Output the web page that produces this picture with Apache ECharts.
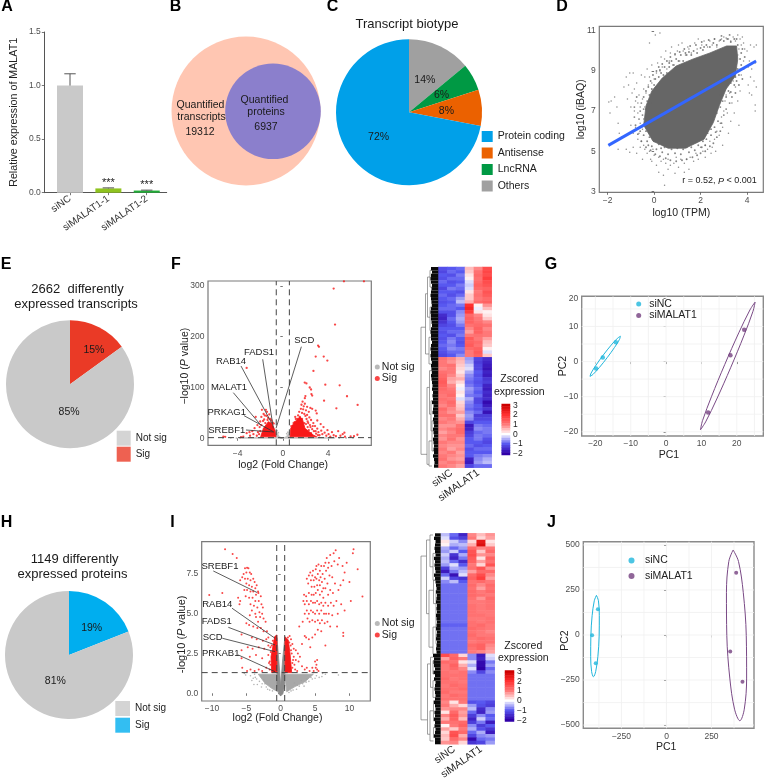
<!DOCTYPE html>
<html><head><meta charset="utf-8">
<style>html,body{margin:0;padding:0;background:#fff}#c{width:765px;height:778px}</style>
<script src="https://cdn.jsdelivr.net/npm/echarts@6/dist/echarts.min.js"></script>
</head><body><div id="c"></div>
<script>
// ---------- Panel A ----------
const knockdownGroups=['siNC','siMALAT1-1','siMALAT1-2'];
const knockdownValues=[1.0,0.04,0.02];
const knockdownErrors=[0.11,0.005,0.004];
const knockdownPositions=[1,2,3];
// ---------- Panel B ----------
const vennNames=['Quantified transcripts','Quantified proteins'];
const vennValues=[19312,6937];
// ---------- Panel C ----------
const biotypeNames=['Others','LncRNA','Antisense','Protein coding'];
const biotypeValues=[14,6,8,72];
// ---------- Panel D ----------
const correlationText=['r = 0.52, ','P',' < 0.001'];
const corrFitLine=[[-1.97,5.29],[4.39,9.5]];
const corrCloudOutline=[[-.35,7.26],[-.1,8],[.35,8.65],[.95,9.25],[1.68,9.6],[2.4,9.9],[3.12,10.25],[3.55,10.25],[3.6,9.59],[3.5,8.76],[3.1,8.1],[2.8,7.26],[2.55,6.43],[2.15,5.6],[1.35,5.15],[.6,5.15],[-.05,5.5],[-.45,6.3]];
const corrEdgeScatter=[[-.35,7.1],[-.3,7.5],[-.2,7.8],[-.15,7.4],[-.1,8.1],[0,8.3],[.05,8.6],[.15,8.2],[.2,8.7],[.3,8.9],[.4,8.8],[.45,9.2],[.55,8.9],[.65,9.2],[.75,9.5],[.85,9.3],[.95,9.6],[1.05,9.5],[1.15,9.8],[1.25,9.5],[1.4,9.8],[1.5,9.95],[1.6,9.8],[1.7,10],[1.85,9.9],[2,10.15],[2.1,10.05],[2.25,10.3],[2.4,10.2],[2.55,10.4],[2.7,10.3],[2.85,10.55],[3,10.5],[3.15,10.6],[3.3,10.45],[3.45,10.6],[3.6,10.3],[3.75,9.9],[3.7,9.6],[3.75,9.3],[3.6,9.1],[3.65,8.8],[3.5,8.7],[3.45,8.3],[3.3,8.4],[3.2,8],[3.05,8.2],[3.1,7.7],[2.95,7.5],[2.85,7.8],[2.85,7.2],[2.7,6.9],[2.75,6.5],[2.55,6.6],[2.6,6.2],[2.45,6.1],[2.45,5.8],[2.3,5.9],[2.25,5.6],[2.1,5.5],[2.05,5.2],[1.9,5.3],[1.8,5.45],[1.75,5.05],[1.6,5.2],[1.5,4.95],[1.4,5.2],[1.25,5.1],[1.15,4.85],[1,5.15],[.9,4.9],[.75,5.1],[.6,4.85],[.45,5.2],[.35,4.95],[.2,5.35],[.1,5.1],[0,5.5],[-.1,5.25],[-.2,5.7],[-.3,5.5],[-.35,6],[-.45,5.8],[-.4,6.4],[-.55,6.2],[-.5,6.8],[-.65,6.6],[-.45,7.1],[-.6,7],[-.55,7.4],[-.45,7.7],[-.35,8],[-.25,8.2],[-.15,8.5],[-.05,8.8],[.1,9],[.2,9.2],[.35,9.35],[.55,9.5],[.7,9.7],[.9,9.85],[1.1,9.95],[1.3,10.1],[1.55,10.25],[1.8,10.3],[2.05,10.45],[2.35,10.55],[2.6,10.6],[2.9,10.75],[3.25,10.8],[3.55,10.6],[3.8,10.1],[3.9,9.7],[3.85,9.1],[3.8,8.6],[3.65,8.3],[3.5,7.9],[3.35,7.7],[3.25,7.4],[3.1,7.1],[3,6.8],[2.9,6.4],[2.85,6],[2.7,5.7],[2.55,5.4],[2.4,5.25],[2.2,5],[2,4.9],[1.85,4.8],[1.65,4.7],[1.4,4.6],[1.2,4.55],[.95,4.5],[.7,4.55],[.5,4.65],[.25,4.75],[.05,4.85],[-.15,5.05],[-.35,5.2],[-.55,5.5],[-.7,5.85],[-.8,6.3],[-.85,6.7],[-.85,7.2],[-.75,7.7],[2.65,5.95],[2.2,5.3],[.3,5.15],[-.25,5.3],[-.6,6],[3.3,7.95],[3.55,8.5],[.25,9.05],[.65,9.4],[1.35,9.9],[2.15,10.2]];
const corrScatter=[[-1.95,7.45],[-1.9,6.9],[-1.85,7.5],[-1.7,7.7],[-1.6,7.2],[-1.55,6.4],[-1.5,5.9],[-1.4,5.7],[-1.3,8.2],[-1.2,8.7],[-1.15,7.6],[-1.1,8.3],[-1.05,8.9],[-1,7.2],[-1,6.3],[-.95,7.9],[-.9,5.9],[-.9,8.9],[-.85,7],[-.8,6.2],[-.8,7.5],[-.75,8.4],[-.7,5.6],[-.7,6.9],[-.65,7.8],[-.6,6.4],[-.6,7.2],[-.55,5.5],[-.55,8.8],[-.5,7.6],[-.5,6.1],[-.45,8.1],[-.45,5.3],[-.4,7.2],[-.4,8.7],[-.4,5.1],[-.35,7.9],[-.3,9.1],[-.3,4.9],[-.25,8.3],[-.2,5],[-.2,8.7],[-.2,10.4],[-.15,4.6],[-.1,8.4],[-.1,9.3],[-.05,5.1],[0,8.6],[0,4.8],[.05,10.8],[.1,4.3],[.1,8.9],[.15,9.4],[.2,4.7],[.25,9],[.25,10.9],[.3,4.5],[.35,9.2],[.4,4.6],[.4,3.8],[.45,9.6],[.5,10],[.5,4.4],[.45,3.3],[.55,9.1],[.6,4.6],[.65,9.5],[.7,4.3],[.75,10.2],[.8,9.3],[.85,4.4],[.9,9.8],[.95,4.7],[1,10],[1.05,4.2],[1.1,9.5],[1.15,4.6],[1.2,10.4],[1.25,10],[1.3,4.4],[1.35,9.8],[1.4,4.6],[1.45,10.2],[1.5,4.1],[1.5,10.1],[1.55,4.7],[1.6,9.9],[1.7,4.5],[1.75,10.4],[1.8,4.9],[1.85,10.1],[1.9,4.6],[1.9,10.6],[2,5.2],[2.05,10.3],[2.1,5],[2.15,10.5],[2.2,5.3],[2.3,10.2],[2.3,5.1],[2.4,10.5],[2.4,5.5],[2.5,5.2],[2.5,10.3],[2.6,5.6],[2.6,10.6],[2.65,5],[2.7,6],[2.7,10.2],[2.8,5.8],[2.8,10.5],[2.85,6.4],[2.9,6.7],[2.9,10.6],[2.95,6.2],[3,7],[3,10.7],[3.05,7.5],[3.1,7.8],[3.1,10.65],[3.15,6.9],[3.2,8.3],[3.2,10.6],[3.25,7.9],[3.3,8.6],[3.3,10.5],[3.35,7.4],[3.4,8.5],[3.4,10.7],[3.45,9],[3.5,8.2],[3.5,10.5],[3.55,9.4],[3.6,9.8],[3.6,10.8],[3.65,10.1],[3.65,6.3],[3.7,9.1],[3.7,10.6],[3.75,8.8],[3.75,10.3],[3.8,10.7],[3.85,9.5],[3.85,10.4],[3.9,10.1],[4,10],[4.05,9.2],[4.05,8.3],[4.1,9.5],[4.1,7.9],[4.15,8.7],[4.15,10.3],[4.2,7.8],[4.2,9.1],[4.3,8.5],[4.3,10.2],[4.35,9.4],[4.35,7.3],[4.35,7],[4.4,8.2],[4.4,10.3],[3.2,5.9],[2.95,5.3],[3.3,6.5],[3.45,6.9],[3.6,7.5],[3.7,8],[.9,3.9],[-.75,4.9],[-1.2,5.1],[-1.05,4.95],[-.9,5.2],[-1.55,5.1],[-.5,4.6],[-.6,5.2],[.2,3.95],[1.3,3.95],[-.3,6.5],[-.45,6.6],[-.65,5.9],[-.7,7.4],[-.85,8.1],[-.1,4.5],[.6,4.1],[2.2,4.7],[2.45,4.9],[.3,9.7],[.7,9.9],[1.05,10.3]];
// ---------- Panel E / H ----------
const transcriptSigNames=['Sig','Not sig'];
const transcriptSigValues=[15,85];
const proteinSigNames=['Sig','Not sig'];
const proteinSigValues=[19,81];
// ---------- Panel F ----------
const rnaNotSigBand=[[-3.6,.2],[4.6,.2],[4.6,1.3],[.6,1.3],[.6,12],[.3,3],[0,.2],[-.3,3],[-.6,14],[-.6,1.3],[-3.6,1.3]];
const rnaSigLeftCloud=[[-1.96,3],[-1.72,19.6],[-1.28,32.7],[-.98,29.5],[-.69,16],[-.6,3]];
const rnaSigRightCloud=[[.64,3],[.7,19.6],[1.08,32.7],[1.52,42.5],[1.76,36],[1.96,19.6],[2.7,6.5],[3,3]];
const rnaNotSig=[[-5.3,.6],[-4.6,.9],[-4.1,.5],[-3.8,.8],[5,.7],[5.6,.6],[6.2,.8],[.35,9],[-.4,11],[.45,12],[-.5,15]];
const rnaSig=[[5.41,309],[7.18,309],[4.5,294.6],[4.62,223.8],[-3.2,138.5],[3.12,182.4],[3.2,180],[2.91,160.8],[3.62,160.8],[3.94,152.9],[2.71,132.5],[1.94,109.6],[2.09,108],[2.38,100],[2.5,96],[3.76,105.6],[5.03,104.3],[2.53,87],[2.6,84],[5.68,82.7],[3.65,74],[2,83],[1.95,79],[4.74,59],[6.62,65.6],[2.44,59.7],[2.6,58],[2.91,54.5],[3,49],[-5.26,3.3],[-5.1,2.8],[-3.2,10],[-2.9,5],[-2.7,14],[-2.5,20],[-2.4,42],[-2.25,26],[-2.2,12],[-2,33],[-1.9,42],[-1.85,56],[-1.7,48],[-1.65,37],[-1.5,56],[-1.45,44],[-1.4,52],[-1.3,40],[-1.2,47],[-1.1,38],[-1,35],[-.9,31],[-.8,29],[-1.6,45],[-1.35,36],[-1.75,34],[-2.05,22],[-2.6,8],[-3.5,3],[-3.7,2],[-2.95,12],[-2.1,8],[-2,14],[-2.3,5],[-1.9,26],[-1.55,30],[1.35,45],[1.45,52],[1.5,42],[1.6,58],[1.65,66],[1.7,50],[1.75,72],[1.8,57],[1.85,63],[1.9,48],[1.95,68],[2,44],[2.05,55],[2.1,38],[2.15,46],[2.2,33],[2.25,30],[2.35,41],[2.4,26],[2.45,22],[2.5,36],[2.6,18],[2.7,30],[2.75,14],[2.85,24],[2.95,9],[3.05,19],[3.15,12],[3.25,6],[3.35,28],[3.4,15],[3.5,8],[3.6,22],[3.7,11],[3.85,5],[3.95,16],[4.05,8],[4.2,3],[4.35,12],[4.5,6],[4.7,4],[4.9,14],[5.1,5],[5.3,8],[5.45,11],[5.5,3],[6,3.5],[6.3,4],[6.6,7],[1.05,32],[1.15,38],[1.25,30],[.9,25],[.8,20],[.75,24],[1.1,42],[1.55,36],[3.05,35],[2.3,52],[2.15,62],[2.2,22],[2.3,16],[2.5,10],[2.65,24],[2.9,14],[3.1,6],[1.9,30],[2.05,28],[1.7,38],[1.3,38],[.95,30]];
const rnaAnnotNames=['SCD','FADS1','RAB14','MALAT1','PRKAG1','SREBF1'];
const rnaAnnotLabels=[[1.9,192.9],[-2.11,169.9],[-4.58,150.8],[-4.76,101],[-4.96,51.8],[-4.96,16.3]];
const rnaAnnotLeaders=[[1.64,180.3,-.6,19.7],[-1.78,155.5,-.84,19.7],[-3.7,142.3,-.98,29.5],[-4.38,89.8,-1.96,26.2],[-3.43,44.5,-.84,13],[-3.26,16.3,-.78,12.4]];
// ---------- Panel F heatmap ----------
const heatColumns=['','siNC','','','siMALAT1',''];
const zScaleValues=['3','2.75','2.5','2.25','2','1.75','1.5','1.25','1','0.75','0.5','0.25','0','-0.25','-0.5','-0.75','-1','-1.25','-1.5','-1.75','-2'];
const heatF=[
[-1.1,-1,-.9,.5,.9,1.6],[-1.2,-.9,-1,.4,1.1,1.7],[-1,-1.1,-.8,.2,1.2,1.6],[-1.1,-.9,-.9,.1,1.1,1.8],[-.9,-1.1,-1,-.2,1.2,1.6],[-1,-1,-.8,-.3,1.3,1.5],[-1.2,-.8,-.9,-.2,1.2,1.3],[-1,-1,-1.1,.2,1,1.5],[-.9,-1.1,-.9,.4,1.1,1.4],[-1,-.9,-.6,.4,1,1.2],[-1.1,-1,-.4,.6,1.2,1.3],
[-1,-.9,-.8,2,.1,.8],[-.9,-.9,-1,2.2,-.1,.5],[-1.1,-1.1,-.7,1.8,.2,.1],[-1.5,-1.1,-.6,1.2,.9,.2],[-1.6,-.9,-.5,1.3,1,.4],[-1.4,-1,-.6,1.3,1.1,.9],[-1.2,-1.1,-.8,1.1,1.2,1.1],[-1,-1,-1,.9,1.3,.9],[-1.1,-.9,-.9,.7,1.3,1],[-1,-1.1,-.8,1,1.1,1],[-1.1,-.8,-1,1.4,1,.7],[-1,-.7,-1.1,1.3,1.2,.5],[-.9,-.8,-1,1.4,1.1,.4],[-1,-.7,-.8,1.2,1.3,.1],[-1.1,-.9,-.9,1,1.4,-.2],[-1.2,-1,-.7,1,1.3,.4],
[1.1,.9,.6,-.6,-1.2,-1.5],[1,.8,.5,-.5,-1.3,-1.6],[1,1.1,.4,-.3,-1.2,-1.7],[.9,1,.3,-.2,-1.2,-1.8],[1.1,1,.2,-.5,-1,-1.6],[1.2,.9,.4,-.7,-1.1,-1.7],[1.3,.7,.6,-.8,-1,-1.4],[1.4,.6,.3,-.9,-1.1,-1.3],[1.3,.9,.1,-.8,-1,-1.6],[1.2,1,-.1,-.6,-.9,-1.7],[1.1,1.1,.2,-.7,-1,-1.5],[1,1.2,.1,-.8,-.9,-1.6],[1.1,1,-.2,-.5,-1.2,-1.5],[1,1.2,.3,-.7,-1.2,-1.9],[.9,1.1,.4,-.8,-1,-1.7],[1.2,.9,.5,-.9,-1.1,-1.4],[1,.8,.7,-.7,-.9,-1.8],[1.1,1.1,.4,-.6,-1.3,-1.3],[.9,1,.6,-.7,-1.2,-1.2],[1,.9,.8,-1.2,-1,-1],
[.8,.8,1.1,-1.7,-.8,-.9],[.9,1,1.2,-1.6,-.7,-.8],[.7,.9,1.2,-1.3,-.9,-.8],[.9,1,1,-1.2,-.8,-.9],[.8,1.1,.8,-1,-.8,-1.1],[1,.9,.9,-1,-1,-1.2],[.9,.8,.8,-.9,-1.1,-1],[1,.7,.9,-1.1,-.9,-.9],[.9,1,.7,-1,-1,-1],[1,.9,.8,-1,-.8,-.7],[1.1,.8,.7,-1.6,-.7,-.5],[.9,1,.9,-1.7,-.6,-.4],[1,.9,.7,-1.2,-.9,-.9]];
const dendroF=[[0,18,0,56],[0,18,4.5,18],[0,56,6,56],[4.5,8,4.5,26],[4.5,8,6.5,8],[4.5,26,8,26],[6.5,3,6.5,15],[6.5,3,9,3],[6.5,15,9,15],[9,1,9,6],[9,1,11,1],[9,6,11,6],[9,12,9,19],[9,12,11,12],[9,19,11,19],[8,21,8,29],[8,21,10.5,21],[8,29,10.5,29],[6,36,6,59],[6,36,8.5,36],[6,59,8,59],[8.5,31,8.5,44],[8.5,31,11,31],[8.5,44,10,44],[10,40,10,49],[10,40,12,40],[10,49,12,49],[8,52,8,59.5],[8,52,11,52],[8,59.5,11,59.5],[11,27,11,33],[11,33,13,33],[11,24,11,28],[11,24,13,24],[11,10,11,14],[11,10,13,10],[11,14,13,14],[11,46,11,55],[11,46,13,46],[11,55,13,55]];
const dendroLeavesF=[10,11,10,9.5,10,11,10.5,10,9.5,10,10.5,11,10,9.5,10,10,10.5,11,10,9.5,10,10,11,10,9.5,10,9.5,10,11,10,10.5,11,10,10.5,11,11.5,11,12,11.5,12,11,12.5,12,11.5,13,12,12.5,13,12,12.5,13,12,12.5,13,12.5,13,12,13,13.5,13];
// ---------- Panel G ----------
const pcaNames=['siNC','siMALAT1'];
const pcaRnaNC=[[-19.8,-2],[-17.9,1.14],[-14.2,5.5]];
const pcaRnaKD=[[11.9,-14.5],[18.2,1.8],[22.1,9.05]];
const pcaRnaNCEllipse=[[-12.9,7.22],[-13.21,6.25],[-14.59,4.01],[-16.67,1.1],[-18.89,-1.71],[-20.66,-3.65],[-21.5,-4.22],[-21.19,-3.25],[-19.81,-1.01],[-17.73,1.9],[-15.51,4.71],[-13.74,6.65],[-12.9,7.22]];
const pcaRnaKDEllipse=[[25.18,16.95],[24.58,14.33],[22.07,7.54],[18.32,-1.61],[14.34,-10.66],[11.19,-17.18],[9.72,-19.43],[10.32,-16.81],[12.83,-10.02],[16.58,-.87],[20.56,8.18],[23.71,14.7],[25.18,16.95]];
const pcaRnaGridX=[-20,-15,-10,-5,0,5,10,15,20,25];
const pcaRnaGridY=[-20,-15,-10,-5,0,5,10,15];
// ---------- Panel I ----------
const protNotSigLeftLobe=[[-3.26,1.2],[-.44,1.2],[-.44,.1],[-1.31,.31],[-2.29,.63]];
const protNotSigRightLobe=[[.63,1.2],[4.75,1.2],[3.54,.73],[2.08,.42],[.87,.1]];
const protNotSigCore=[[-.55,1.3],[-.55,3.5],[-.3,2.2],[0,.5],[.3,2.2],[.6,3.5],[.6,.5],[.3,-.05],[0,-.15],[-.3,-.05],[-.55,.5]];
const protSigLeftStrip=[[-1.31,1.3],[-.55,1.3],[-.55,3.67],[-.87,3.57],[-1.41,2.3]];
const protSigRightStrip=[[.63,1.3],[1.6,1.3],[1.35,2.52],[1.1,3.35],[.63,3.56]];
const protNotSig=[[-4,.95],[-3.4,.55],[-3.7,1],[-2.8,.4],[-2.3,.6],[-1.9,.25],[2.4,.5],[3,.8],[3.8,.9],[4.4,1],[5.2,1.1],[8.4,1.15],[6.1,1.25],[-5.1,1.15],[-5.3,1.25],[-3.9,.55],[1.8,.2],[2,.65],[3.4,.45],[-2.5,.85],[-3.5,.9],[-3.1,.75],[-2.7,.6],[-2.1,.4],[-1.6,.2],[-1.2,.15],[1.2,.05],[1.5,.15],[2.3,.25],[2.7,.45],[3.2,.6],[3.7,.7],[4.1,.75],[4.6,.9],[5,.95],[5.6,1],[6,1.05],[6.5,1.2],[-4.4,1.1],[-4.2,.8],[-3.8,1.2]];
const protSig=[[-8.1,9.06],[-7,8.76],[-6.4,8.5],[-5.2,7.86],[-4.9,7.9],[-4.7,7.86],[-5,7.6],[-5.4,7.5],[-4.5,7.6],[-4.3,7.5],[-5.6,7.3],[-5.2,7.2],[-4.8,7.2],[-4.4,7.1],[-4,7.2],[-3.8,7],[-5.9,7.1],[-5,6.9],[-4.6,6.8],[-4.2,6.7],[-3.7,6.6],[-3.3,6.4],[-3.5,6.8],[-5.3,6.5],[-4.9,6.5],[-4.4,6.4],[-4,6.4],[-3.6,6.2],[-3.25,6.3],[-2.9,6.1],[-10.4,6.18],[-8.5,6.3],[-6.2,6],[-5.9,5.8],[-6,5.6],[-5.1,6.1],[-4.6,6],[-4.1,6],[-3.7,5.8],[-3.2,5.8],[-2.8,5.6],[-4.4,5.6],[-3.9,5.5],[-3.4,5.4],[-2.6,5.4],[-4.2,5.2],[-3.7,5],[-3.1,5.1],[-2.7,5],[-3.6,4.8],[-3,4.8],[-3.3,4.5],[-2.5,4.7],[-2.2,4.5],[-4.5,4.9],[-5,4.4],[-4.6,4.3],[-4,4.2],[-3.4,4.1],[-2.9,4.1],[-2.5,3.9],[-2,3.9],[-5.7,3.7],[-4.2,3.5],[-3.5,3.4],[-2.6,3.3],[-2.1,3.4],[-1.8,3.5],[-5.7,2.7],[-4.8,2.9],[-4.1,2.8],[-3.2,2.9],[-2.4,2.8],[-1.8,3],[-1.5,2.9],[-5.7,2.2],[-4.5,2.3],[-3.6,2.4],[-2.7,2.2],[-1.8,2.4],[-1.6,2],[-5.6,1.6],[-4.9,1.4],[-4.4,1.5],[-3.8,1.4],[-3.2,1.5],[-2.7,1.4],[-2.1,1.6],[-1.6,1.5],[-1.5,1.8],[-1.45,2.6],[-1.3,3],[-1.15,3.3],[-1.7,1.9],
[3.8,7.2],[4,6.9],[4.1,7.4],[4.3,7.6],[4.4,7.1],[4.5,6.7],[4.6,7.4],[4.7,7.7],[4.8,7.1],[4.9,6.7],[5,7.3],[5.1,7.8],[5.2,8],[5.2,7.2],[5.3,6.8],[5.4,7.5],[5.5,8.1],[5.6,7.1],[5.7,7.7],[5.7,6.8],[5.8,7.3],[5.9,8],[6,7],[6.1,7.5],[6.2,6.6],[6.3,8],[6.4,7.2],[6.5,8.2],[6.6,7.7],[6.7,8.5],[6.8,6.9],[6.9,7.9],[7,8.2],[7.1,7.4],[7.2,8.7],[7.4,8],[7.5,7.3],[7.7,8.8],[7.8,8.3],[8,9],[8.3,8.1],[8.5,8.5],[9,8],[9.3,7.6],[9.6,8.2],[10.6,9.06],[10.5,8.8],[11.2,7.8],[10,7],[9.1,7.1],[8.7,6.8],[8.4,6.5],[7.9,6.9],[7.6,6.3],[7.2,6.5],[6.9,6.2],[6.5,6.6],[6.2,6],[6,6.4],[5.7,6.2],[5.4,6.5],[5.1,6.3],[4.8,6.2],[4.5,6.2],[4.1,6.3],[3.7,6.1],[3.4,6.2],[3.3,5.8],[3.5,5.6],[3.8,5.8],[4.1,5.6],[4.4,5.8],[4.7,5.7],[5,5.7],[5.3,5.8],[5.6,5.6],[5.9,5.7],[6.2,5.5],[6.5,5.7],[6.9,5.5],[7.3,5.7],[7.7,5.5],[8.1,5.8],[8.8,5.6],[10.2,5.8],[11.9,6.08],[9.3,5.2],[8.3,5],[7.5,4.9],[7,5],[6.6,5],[6.3,5],[5.9,5.2],[5.6,5],[5.3,5.2],[5,5],[4.7,5.1],[4.4,5.2],[4.1,5],[3.8,5.2],[3.5,5],[3.9,4.7],[4.2,4.5],[4.6,4.6],[5,4.5],[5.4,4.6],[5.7,4.4],[6,4.6],[6.4,4.4],[6.8,4.5],[7.2,4.2],[8.2,4.2],[9.1,3.8],[9.1,3.6],[3.2,4.5],[2.7,4.2],[3.1,3.1],[3.5,3.6],[3.7,3.5],[4.1,3.4],[4.3,2.9],[4.6,3.5],[5,3.7],[5.4,4],[5.9,3.9],[6.5,3],[1.3,3.6],[1.5,3.4],[1.7,3.1],[1.9,2.8],[2.2,2.7],[2.5,2.5],[2.8,2.3],[2.6,2],[2.2,2.1],[1.9,2.3],[1.6,2.5],[3.1,1.7],[3.5,1.5],[3.8,1.6],[4.2,1.4],[4.6,1.6],[5,2],[5.2,1.8],[5.3,1.5],[5.5,1.4],[4.8,1.4],[5.1,1.6],[2.1,1.5],[2.4,1.4],[1.7,1.6],[5.3,2.1],[1.7,1.9],[1.5,2.7],[1.8,2.1],[1.45,3],[1.25,3.2],[1.05,3.5],[2,1.8]];
const protAnnotNames=['SREBF1','RAB14','FADS1','SCD','PRKAB1'];
const protAnnotLabels=[[-8.84,7.96],[-9.23,5.62],[-9.32,4.5],[-9.9,3.5],[-8.73,2.52]];
const protAnnotLeaders=[[-9.81,7.69,-3.41,6.33],[-7.09,5.35,-.83,3.46],[-7.63,4.15,-.83,3.04],[-8.5,3.46,-.83,2.62],[-6.17,2.41,-.83,1.36]];
// ---------- Panel I heatmap ----------
const heatI=[
[-.4,-.9,-1.6,.9,.5,.8],[-.2,-1.1,-1.3,1,.3,.7],[.2,-.3,-.7,.3,2.5,.2],[.1,-.5,-.4,.6,2.7,.4],[-.5,-.9,-.6,1.2,.9,1],[-.6,-.3,-1,1.5,.4,1.2],[-.3,-1.4,-.5,1.6,.8,.9],[-.5,-1.6,-.8,1.4,.2,1.3],[-.4,-.9,-1.5,1.3,.7,1.1],[-.6,-.2,-1,1,.3,1.5],[-1.3,-.5,-.6,1.1,1.5,.8],[-1.7,-.8,-.4,.7,1.2,1.2],[-.9,-1.8,-.2,1.2,1.6,.9],[-.3,-1.2,-1.4,1.3,1.8,.7],[-.7,-.4,-1,1.1,1.2,1],
[-.85,-.85,-.85,1.2,.9,1.2],[-.85,-.85,-.85,1.1,.7,1.1],[-.85,-.85,-.85,1.2,1,1.2],[-.85,-.85,-.85,1.2,1.1,1],[-.85,-.85,-.85,1.1,.8,1.2],[-.85,-.85,-.85,1,1,1.1],[-.85,-.85,-.85,1.1,1,1.1],[-.85,-.85,-.85,1.1,1,1.1],[-.85,-.85,-.85,1.1,1,1],[-.85,-.85,-.85,1.1,1.1,1],[-.85,-.85,-.85,1,1,1.1],[-.85,-.85,-.85,1.1,1,1.1],[-.95,-.95,-.95,1.1,1.2,1],[-.85,-.85,-.85,1.2,1.1,1],[-.85,-.85,-.85,1.1,1,.9],[-.85,-.85,-.85,1.2,1,1],[-.85,-.85,-.85,1.1,1.2,1.1],[-.85,-.85,-.85,1,1.1,1.1],[-.85,-.85,-.85,1.2,1.3,.9],[-.85,-.85,-.85,1.1,1.3,.8],[-.85,-.85,-.85,1,.9,.7],
[1.6,1.2,.3,-.7,-1.7,-.2],[.7,1.3,1,-.7,-1.6,-.3],[1.2,1.1,.2,-.2,-1.9,-.8],[1,1.3,.6,-.5,-1.9,-.6],[1,1.2,.9,-.2,-2,-.9],[1.1,1,1.1,-.7,-1.2,-.7],
[1.1,1.1,1.1,-.85,-.85,-.85],[1.2,1,1.1,-.85,-.85,-.85],[1.1,1.1,1,-.85,-.85,-.85],[1,1.2,1.1,-.85,-.85,-.85],[1.1,1.1,1.2,-.85,-.85,-.85],[1.2,1,1,-.85,-.85,-.85],[1,1.2,1.1,-.85,-.85,-.85],[1.1,1.1,1.1,-.85,-.85,-.85],
[.9,.2,1,-1.1,-1,-1.2],[1,.6,.3,-.6,-1.1,-1.3],[.8,.9,.9,-.4,-1.5,-.7],[.2,1.2,.7,-.9,-1.6,-.6],[.9,1.4,.8,-1.3,-.7,-1],[.6,1.3,.5,-1.6,-.3,-.9],[1,1.1,1.2,-1.3,-.8,-1.7],[.1,1,1.3,-.7,-1.3,-1],[.7,.4,1,-.5,-1.1,-1.4],[.3,1.5,1.2,-.9,-.5,-1.7],[.5,1.6,.6,-1.2,-.7,-.6],[.4,1.2,.9,-1.9,-.9,-.8],[.8,.9,.3,-1.4,-1.2,-.6]];
const dendroI=[[0,6.8,0,55.7],[0,6.8,5.5,6.8],[0,55.7,6.5,55.7],[5.5,2,5.5,24],[5.5,2,9,2],[5.5,24,8,24],[9,.5,9,10],[9,.5,12,.5],[9,10,12,10],[12,6,12,14],[12,6,14,6],[12,14,14,14],[8,17,8,34],[8,17,12.5,17],[8,34,12,34],[12.5,14,12.5,21],[12.5,14,15,14],[12.5,21,15,21],[12,28,12,36],[12,28,15,28],[12,36,15,36],[15,17,15,33],[15,33,17,33],[6.5,39,6.5,60],[6.5,39,9.5,39],[6.5,60,9,60],[9.5,37,9.5,46],[9.5,37,12,37],[9.5,46,12,46],[12,38,12,42],[12,38,14.5,38],[12,42,14.5,42],[12,44,12,49],[12,44,15,44],[12,49,15,49],[9,53,9,62],[9,53,12.5,53],[9,62,12.5,62],[12.5,50,12.5,56],[12.5,50,15,50],[12.5,56,15,56],[12.5,58,12.5,61],[12.5,58,15,58],[12.5,61,15,61]];
const dendroLeavesI=[14,13,14.5,14,13.5,14,14.5,13,14,13.5,14,14.5,13,14,14.5,15,15.5,15,16,15.5,15,16,15.5,16,15,15.5,16,15.5,15,16,15.5,15,16,15.5,15,15.5,12,13,12.5,13,14,12.5,14,13,14.5,14,13.5,14,14.5,14,13,14,14.5,13.5,14,13,14,13.5,14.5,14,13,14,14];
// ---------- Panel J ----------
const pcaProtNC=[[-381,143],[-413,-2],[-393,-157]];
const pcaProtKD=[[387,346],[354,-91],[422,-259]];
const pcaProtNCEllipse=[[-389,220],[-378,190],[-373,107],[-374,-6],[-381,-119],[-393,-202],[-405.5,-232],[-416,-202],[-421,-119],[-420,-6],[-413,107],[-401,190],[-389,220]];
const pcaProtKDEllipse=[[370,472],[400,408],[426.5,235],[443,-2],[445,-239],[432,-412],[407.5,-476],[378,-412],[351.5,-239],[335,-2],[333,235],[346,408],[370,472]];
const pcaProtGridX=[-375,-250,-125,0,125,250,375];
const pcaProtGridY=[-500,-375,-250,-125,0,125,250,375,500];

// ---------- helpers ----------
const FONT='"Liberation Sans", Arial, sans-serif';
const grids=[],xAxes=[],yAxes=[],series=[],legends=[],graphics=[];
const tickColor='#4d4d4d';
function addGrid(l,t,w,h,o){grids.push(Object.assign({left:l,top:t,width:w,height:h,containLabel:false,outerBoundsMode:'none'},o||{}));return grids.length-1;}
const frame={show:true,borderColor:'#7a7a7a',borderWidth:1.2,backgroundColor:'transparent'};
function vAxis(g,min,max,ticks,o){
  o=o||{};
  const fmt=o.formatter||(v=>String(v).replace('-','\u2212'));
  const a={type:'value',gridIndex:g,min,max,nameLocation:'middle',nameMoveOverlap:false,
    axisLine:{show:!!o.line,lineStyle:{color:'#555',width:1}},
    axisTick:{show:true,length:2.5,customValues:ticks,lineStyle:{color:'#555',width:.8}},
    axisLabel:{show:true,customValues:ticks,fontSize:o.fs||8.5,color:o.lc||tickColor,margin:o.margin==null?3.5:o.margin,formatter:fmt,rotate:o.rotate||0,fontFamily:FONT},
    splitLine:{show:false}};
  if(o.name){a.name=o.name;a.nameGap=o.gap;a.nameTextStyle=Object.assign({fontSize:o.nfs||10.5,color:'#222',fontFamily:FONT},o.nts||{});}
  return a;
}
const hidden=(g,min,max,inv)=>({type:'value',gridIndex:g,min,max,show:false,inverse:!!inv,splitLine:{show:false}});
function segSeries(g,rows,stroke,w,dash,z){
  series.push({type:'custom',xAxisIndex:g,yAxisIndex:g,data:rows,z:z||3,silent:true,animation:false,encode:{x:[0,2],y:[1,3]},
    renderItem:(p,api)=>{const a=api.coord([api.value(0),api.value(1)]),b=api.coord([api.value(2),api.value(3)]);
      return {type:'line',shape:{x1:a[0],y1:a[1],x2:b[0],y2:b[1]},style:{stroke,lineWidth:w,lineDash:dash||null,fill:null}};}});
}
function polySeries(g,pts,fill,z){
  series.push({type:'custom',xAxisIndex:g,yAxisIndex:g,data:pts,z:z||2,silent:true,encode:{x:0,y:1},
    renderItem:(p,api)=>{if(p.dataIndex!==0)return null;
      return {type:'polygon',shape:{points:pts.map(q=>api.coord(q))},style:{fill,stroke:fill,lineWidth:.8}};}});
}
function labelSeries(g,pts,names){
  series.push({type:'custom',xAxisIndex:g,yAxisIndex:g,data:pts,z:6,silent:true,encode:{x:0,y:1},
    renderItem:(p,api)=>{const c=api.coord([api.value(0),api.value(1)]);
      return {type:'text',x:c[0],y:c[1],style:{text:names[p.dataIndex],font:'9.5px '+FONT,fill:'#222',align:'center',verticalAlign:'middle'}};}});
}
function scatter(g,name,data,color,size,z){series.push({type:'scatter',name,xAxisIndex:g,yAxisIndex:g,data,symbolSize:size,itemStyle:{color},z:z||4,silent:true,large:false});}
function ellipse(g,name,data,color){series.push({type:'line',name:name+' ellipse',xAxisIndex:g,yAxisIndex:g,data,smooth:.35,showSymbol:false,symbol:'none',lineStyle:{color,width:1},z:4,silent:true});}
const T=(x,y,text,fs,o)=>graphics.push({type:'text',x,y,silent:true,z:50,style:Object.assign({text,font:(o&&o.bold?'bold ':'')+fs+'px '+FONT,fill:'#1a1a1a',align:'center',verticalAlign:'middle'},o&&o.style||{})});
function gridLineRows(xs,ys,x0,x1,y0,y1){return xs.map(v=>[v,y0,v,y1]).concat(ys.map(v=>[x0,v,x1,v]));}
function pieSeries(names,vals,colors,cx,cy,r,offsets){
  series.push({type:'pie',center:[cx,cy],radius:[0,r],startAngle:90,clockwise:true,silent:true,z:2,
    data:names.map((n,i)=>({name:n,value:vals[i],itemStyle:{color:colors[i]}})),
    label:{show:true,position:'inside',formatter:'{c}%',fontSize:10.5,color:'#1a1a1a',fontFamily:FONT},labelLine:{show:false},emphasis:{disabled:true},
    labelLayout:p=>({dx:offsets[p.dataIndex][0],dy:offsets[p.dataIndex][1]})});
}
function dotLegend(left,top,names,colors,gap,pad){
  legends.push({show:true,left,top,padding:0,orient:'vertical',selectedMode:false,itemWidth:5,itemHeight:5,itemGap:gap,icon:'circle',
    textStyle:{fontSize:10.5,color:'#222',fontFamily:FONT,padding:[0,0,0,pad]},
    data:names.map((n,i)=>({name:n,icon:'circle',itemStyle:{color:colors[i],borderWidth:0}}))});
}
function squareLegend(left,top,names,colors,w,h,gap,fs){
  legends.push({show:true,left,top,padding:0,orient:'vertical',selectedMode:false,itemWidth:w,itemHeight:h,itemGap:gap,icon:'rect',
    textStyle:{fontSize:fs,color:'#222',fontFamily:FONT},
    data:names.map((n,i)=>({name:n,icon:'rect',itemStyle:{color:colors[i],borderWidth:0}}))});
}

// ---------- A ----------
{const g=addGrid(44.3,32,122.4,160.7);
 const x=vAxis(g,.33,3.52,knockdownPositions,{line:true,fs:10,lc:'#333',rotate:35,margin:5,formatter:v=>knockdownGroups[v-1]});
 const y=vAxis(g,0,1.5,[0,.5,1,1.5],{line:true,fs:8.5,formatter:v=>v.toFixed(1),name:'Relative expression of MALAT1',gap:24.5,nfs:10.7});
 xAxes.push(x);yAxes.push(y);
 const colors=['#c9c9c9','#8fc31f','#22ac38'];
 series.push({type:'bar',xAxisIndex:g,yAxisIndex:g,barWidth:26,silent:true,z:2,
  data:knockdownValues.map((v,i)=>({value:[knockdownPositions[i],v],itemStyle:{color:colors[i]},label:{show:i>0,position:'top',distance:0,formatter:'***',fontSize:11,color:'#222',fontFamily:FONT}}))});
 const rows=knockdownValues.map((v,i)=>[knockdownPositions[i],v,knockdownErrors[i]]);
 series.push({type:'custom',xAxisIndex:g,yAxisIndex:g,data:rows,z:3,silent:true,encode:{x:0,y:1},
  renderItem:(p,api)=>{const a=api.coord([api.value(0),api.value(1)]),b=api.coord([api.value(0),api.value(1)+api.value(2)]);const hw=5.7;
   const st={stroke:'#555',lineWidth:1,fill:null};
   return {type:'group',children:[{type:'line',shape:{x1:a[0],y1:a[1],x2:b[0],y2:b[1]},style:st},{type:'line',shape:{x1:b[0]-hw,y1:b[1],x2:b[0]+hw,y2:b[1]},style:st}]};}});
}
// ---------- B ----------
[[246,111,74.5,'#ffc6b2'],[273,111.3,47.8,'#8b7fcc']].forEach((c,i)=>{
 series.push({type:'pie',center:[c[0],c[1]],radius:[0,c[2]],silent:true,z:2+i,label:{show:false},labelLine:{show:false},emphasis:{disabled:true},
  data:[{name:vennNames[i],value:vennValues[i],itemStyle:{color:c[3]}}]});});
T(200.5,105.3,'Quantified',10.5);T(201.5,117.5,'transcripts',10.5);T(200,132.5,String(vennValues[0]),10.5);
T(264.5,100,'Quantified',10.5);T(266,112.5,'proteins',10.5);T(266,127.5,String(vennValues[1]),10.5);
// ---------- C ----------
const biotypeColors=['#a0a0a0','#009944','#eb6100','#00a0e9'];
pieSeries(biotypeNames,biotypeValues,biotypeColors,409,112.3,73,[[-1,4],[-2,2],[-2,1],[0,0]]);
T(407,24.5,'Transcript biotype',13);
squareLegend(481.7,131,['Protein coding','Antisense','LncRNA','Others'],['#00a0e9','#eb6100','#009944','#a0a0a0'],11,11,5.5,10.5);
// ---------- D ----------
{const g=addGrid(599.3,26.3,164,166,frame);
 xAxes.push(vAxis(g,-2.36,4.7,[-2,0,2,4],{name:'log10 (TPM)',gap:15,nfs:10.5}));
 yAxes.push(vAxis(g,2.95,11.23,[3,5,7,9,11],{name:'log10 (iBAQ)',gap:12.5,nfs:10.5}));
 polySeries(g,corrCloudOutline,'#666666',2);
 scatter(g,'corr',corrScatter,'#6e6e6e',1.5,3);
 scatter(g,'corrEdge',corrEdgeScatter,'#666666',1.9,3);
 series.push({type:'line',xAxisIndex:g,yAxisIndex:g,data:corrFitLine,showSymbol:false,symbol:'none',lineStyle:{color:'#3366ff',width:3},z:5,silent:true});
 graphics.push({type:'text',x:756.7,y:181,silent:true,z:50,style:{text:'{n|'+correlationText[0]+'}{i|'+correlationText[1]+'}{n|'+correlationText[2]+'}',align:'right',verticalAlign:'middle',rich:{n:{font:'9px '+FONT,fill:'#222'},i:{font:'italic 9px '+FONT,fill:'#222'}}}});
}
// ---------- E ----------
pieSeries(transcriptSigNames,transcriptSigValues,['#ea3a26','#c9c9c9'],70,384.3,64,[[8,-3],[15,-3]]);
T(77.5,289,'2662  differently',13);T(76,304.3,'expressed transcripts',13);
squareLegend(116.7,430.7,['Not sig','Sig'],['#c9c9c9','#ea3a26'],14,15,1,10);
// ---------- F ----------
{const g=addGrid(208,281,163.3,164.3,frame);
 xAxes.push(vAxis(g,-6.62,7.83,[-4,0,4],{name:'log2 (Fold Change)',gap:14,nfs:10.5,nts:{padding:[0,13,0,0]}}));
 yAxes.push(vAxis(g,-13.8,309.6,[0,100,200,300],{name:'{n|\u2212log10 (}{i|P}{n| value)}',gap:17,nts:{padding:[0,6,0,0],rich:{n:{fontSize:10.5,color:'#222',fontFamily:FONT},i:{fontSize:10.5,fontStyle:'italic',color:'#222',fontFamily:FONT}}}}));
 polySeries(g,rnaNotSigBand,'#c0c0c0',2);
 scatter(g,'Not sig',rnaNotSig,'#a8a8a8',1.8,3);
 polySeries(g,rnaSigLeftCloud,'#f81818',3);polySeries(g,rnaSigRightCloud,'#f81818',3);
 scatter(g,'Sig',rnaSig,'#f81818',2.3,4);
 segSeries(g,[[-.58,-13.8,-.58,309.6],[.58,-13.8,.58,309.6],[-6.62,1.3,7.83,1.3]],'#444',1,[6,4],5);
 segSeries(g,rnaAnnotLeaders,'#333',.8,null,5);
 labelSeries(g,rnaAnnotLabels,rnaAnnotNames);
}
dotLegend(374.8,361.5,['Not sig','Sig'],['#a8a8a8','#f81818'],.4,-3);
// ---------- heat helper ----------
const heatSeriesIdx=[];
function heat(left,top,w,h,rows){
 const g=addGrid(left,top,w,h);
 xAxes.push({type:'category',gridIndex:g,data:heatColumns,axisLine:{show:false},axisTick:{show:false},splitLine:{show:false},
   axisLabel:{show:true,interval:0,rotate:35,fontSize:10.5,color:'#222',margin:4,fontFamily:FONT}});
 yAxes.push({type:'category',gridIndex:g,inverse:true,data:rows.map((r,i)=>String(i)),show:false,splitLine:{show:false}});
 const d=[];rows.forEach((r,i)=>r.forEach((v,j)=>d.push([j,i,v])));
 heatSeriesIdx.push(series.length);
 series.push({type:'heatmap',xAxisIndex:g,yAxisIndex:g,data:d,silent:true,z:2,progressive:0,emphasis:{disabled:true}});
}
function zbar(left,top,w,h){
 const g=addGrid(left,top,w,h);
 xAxes.push({type:'category',gridIndex:g,data:['z'],show:false,splitLine:{show:false}});
 yAxes.push({type:'category',gridIndex:g,position:'right',inverse:true,data:zScaleValues,axisLine:{show:false},axisTick:{show:false},splitLine:{show:false},
   axisLabel:{show:true,interval:0,fontSize:8.5,color:'#222',margin:3,fontFamily:FONT,formatter:v=>Number.isInteger(+v)?v.replace('-','\u2212'):''}});
 heatSeriesIdx.push(series.length);
 series.push({type:'heatmap',xAxisIndex:g,yAxisIndex:g,data:zScaleValues.map((v,i)=>[0,i,+v]),silent:true,z:2,progressive:0,emphasis:{disabled:true}});
}
function dendro(left,top,w,h,rowCount,segs,leaves){
 const g=addGrid(left,top,w,h);
 xAxes.push(hidden(g,0,w));yAxes.push(hidden(g,0,rowCount,true));
 segSeries(g,segs,'#777',.7,null,2);
 const rowH=h/rowCount;
 segSeries(g,leaves.map((s,i)=>[s,i+.5,w,i+.5]),'#0a0a0a',rowH,null,3);
}
heat(438.3,267,53.4,200.7,heatF);
dendro(421,267,17.3,200.7,heatF.length,dendroF,dendroLeavesF);
zbar(501.7,404,8.3,51);
T(519.3,379.3,'Zscored',10.5);T(519.3,392.3,'expression',10.5);
// ---------- G ----------
{const g=addGrid(581.7,296.3,181.6,139.7,{show:true,borderColor:'#8a8a8a',borderWidth:1.4,backgroundColor:'transparent'});
 xAxes.push(vAxis(g,-23.86,27.5,[-20,-10,0,10,20],{name:'PC1',gap:14,nts:{padding:[0,7,0,0]}}));
 yAxes.push(vAxis(g,-21.2,18.6,[-20,-10,0,10,18],{name:'PC2',gap:13,formatter:v=>v===18?'20':String(v).replace('-','\u2212')}));
 segSeries(g,gridLineRows(pcaRnaGridX,pcaRnaGridY,-23.86,27.5,-21.2,18.6),'#f0f0f0',.8,null,1);
 ellipse(g,pcaNames[0],pcaRnaNCEllipse,'#1fb6dc');ellipse(g,pcaNames[1],pcaRnaKDEllipse,'#7a4a86');
 scatter(g,pcaNames[0],pcaRnaNC,'#1fb6dc',4.5,5);scatter(g,pcaNames[1],pcaRnaKD,'#74407f',4.5,5);
}
dotLegend(636.2,298.5,pcaNames,['#1fb6dc','#74407f'],.4,3);
// ---------- H ----------
pieSeries(proteinSigNames,proteinSigValues,['#00aeef','#c9c9c9'],69,655,64,[[3,2],[6,-3]]);
T(74.7,559.3,'1149 differently',13);T(72.5,574.3,'expressed proteins',13);
squareLegend(115.3,701,['Not sig','Sig'],['#c9c9c9','#00aeef'],14.7,15,1.7,10);
// ---------- I ----------
{const g=addGrid(201.7,541.7,168.6,159.3,frame);
 xAxes.push(vAxis(g,-11.5,13.04,[-10,-5,0,5,10],{name:'log2 (Fold Change)',gap:11.5,nfs:10.5,nts:{padding:[0,17,0,0]}}));
 yAxes.push(vAxis(g,-.484,9.53,[0,2.5,5,7.5],{formatter:v=>v.toFixed(1),name:'{n|-log10 (}{i|P}{n| value)}',gap:14,nts:{padding:[0,26,0,0],rich:{n:{fontSize:11,color:'#222',fontFamily:FONT},i:{fontSize:11,fontStyle:'italic',color:'#222',fontFamily:FONT}}}}));
 polySeries(g,protNotSigLeftLobe,'#a8a8a8',2);polySeries(g,protNotSigRightLobe,'#a8a8a8',2);polySeries(g,protNotSigCore,'#8a8a8a',2);
 scatter(g,'Not sig ',protNotSig,'#a0a0a0',1.6,3);
 polySeries(g,protSigLeftStrip,'#f81818',3);polySeries(g,protSigRightStrip,'#f81818',3);
 scatter(g,'Sig ',protSig,'#f81818',2,4);
 segSeries(g,[[-.58,-.484,-.58,9.53],[.58,-.484,.58,9.53],[-11.5,1.3,13.04,1.3]],'#444',1,[6,4],5);
 segSeries(g,protAnnotLeaders,'#333',.8,null,5);
 labelSeries(g,protAnnotLabels,protAnnotNames);
}
dotLegend(374.8,618,['Not sig ','Sig '],['#a8a8a8','#f81818'],.4,-3);
// ---------- I heatmap ----------
heat(440.7,533.3,54,211,heatI);
dendro(421,533.3,19.7,211,heatI.length,dendroI,dendroLeavesI);
zbar(505,670.5,9,51);
T(523.3,645.7,'Zscored',10.5);T(523.3,658.3,'expression',10.5);
// ---------- J ----------
{const g=addGrid(583.3,541.7,170.7,186.6,{show:true,borderColor:'#8a8a8a',borderWidth:1.4,backgroundColor:'transparent'});
 xAxes.push(vAxis(g,-462,486,[-250,0,250],{name:'PC1',gap:13,nts:{padding:[0,5,0,0]}}));
 yAxes.push(vAxis(g,-518,518,[-500,-250,0,250,500],{name:'PC2',gap:13,nts:{padding:[0,11,0,0]}}));
 segSeries(g,gridLineRows(pcaProtGridX,pcaProtGridY,-462,486,-518,518),'#f0f0f0',.8,null,1);
 ellipse(g,pcaNames[0],pcaProtNCEllipse,'#1fb6dc');ellipse(g,pcaNames[1],pcaProtKDEllipse,'#7a4a86');
 scatter(g,'siNC ',pcaProtNC,'#1fb6dc',4,5);scatter(g,'siMALAT1 ',pcaProtKD,'#74407f',4,5);
}
legends.push({show:true,left:628.5,top:555,padding:0,orient:'vertical',selectedMode:false,itemWidth:7,itemHeight:6,itemGap:4.5,icon:'circle',
 textStyle:{fontSize:10.5,color:'#222',fontFamily:FONT,padding:[0,0,0,5]},
 data:[{name:'siNC ',icon:'circle',itemStyle:{color:'#1fb6dc'}},{name:'siMALAT1 ',icon:'circle',itemStyle:{color:'#74407f'}}]});
// ---------- panel letters ----------
[['A',7,7],['B',175.5,7],['C',332.5,7],['D',562,7],['E',6,264.5],['F',176,265],['G',551,264.5],['H',6.5,522.5],['I',172.5,522.5],['J',551.5,522.5]]
 .forEach(a=>T(a[1],a[2],a[0],16,{bold:true,style:{fill:'#000'}}));

const chart=echarts.init(document.getElementById('c'),null,{renderer:'canvas',width:765,height:778});
chart.setOption({animation:false,backgroundColor:'#fff',textStyle:{fontFamily:FONT},tooltip:{show:false},
 grid:grids,xAxis:xAxes,yAxis:yAxes,series,legend:legends,
 visualMap:[{show:false,type:'continuous',seriesIndex:heatSeriesIdx,dimension:2,min:-2,max:3,
   inRange:{color:['#3000a8','#5858f0','#ffffff','#ff7878','#ff3030','#cc0000']}}],
 graphic:{elements:graphics}});
</script></body></html>
